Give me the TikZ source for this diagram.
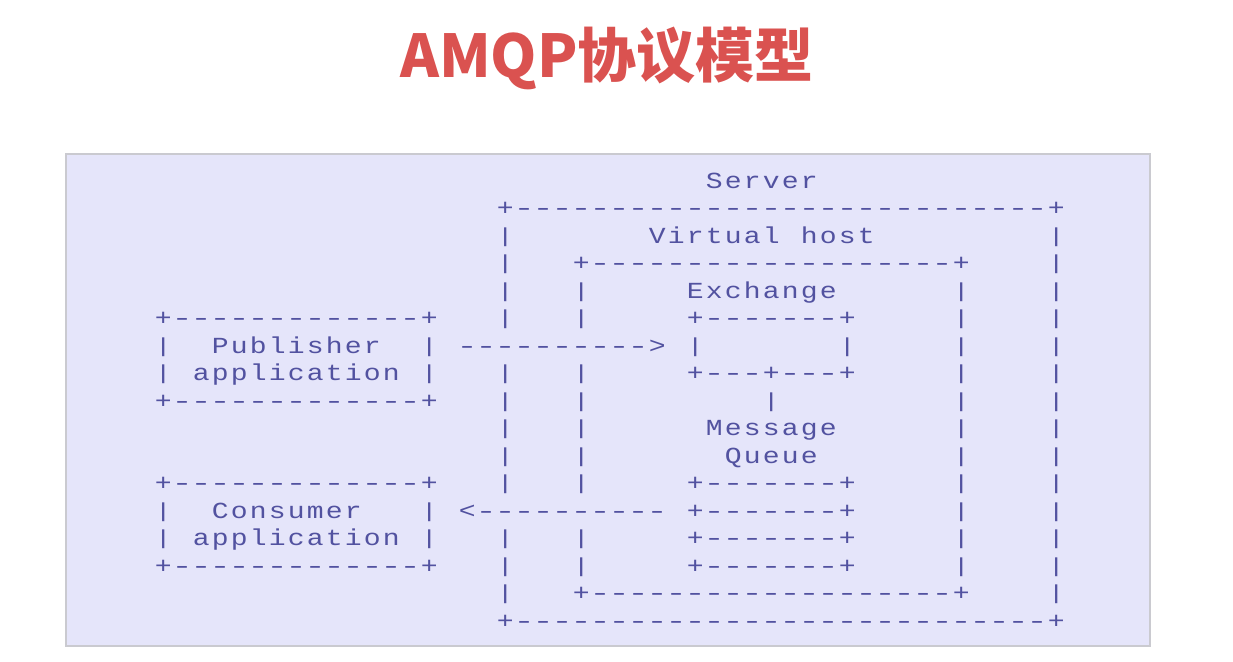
\documentclass[tikz,border=0pt]{standalone}
\usepackage{fontspec}
\usepackage{graphicx}
\setmonofont{Liberation Mono}[FakeStretch=1.22]
\newfontfamily\cjk{Noto Sans CJK SC}
\definecolor{fond}{RGB}{229,229,250}
\definecolor{bord}{RGB}{202,202,208}
\definecolor{encre}{RGB}{82,82,160}
\definecolor{titre}{RGB}{218,82,80}
% chaque caractere dans une case de 19pt, comme une police a chasse fixe un peu espacee
\newcommand\asc[1]{\ascloop#1\relax}
\newcommand\ascloop[1]{%
  \ifx#1\relax\else
    \makebox[19pt][c]{\asccar{#1}}%
    \expandafter\ascloop
  \fi}
\newcommand\asccar[1]{%
  \ifx#1-\scalebox{1.25}[1]{-}\else
    \ifx#1|\raisebox{1pt}{\scalebox{1}[0.88]{|}}\else#1\fi
  \fi}

\begin{document}
\begin{tikzpicture}[x=1pt, y=-1pt,
    ascii/.style={anchor=base west, inner sep=0pt, text=encre,
      font=\ttfamily\fontsize{23}{25}\selectfont}]
  \useasboundingbox (0,0) rectangle (1233,661);
  \node[text=titre, font=\cjk\bfseries\fontsize{59}{62}\selectfont] (titre) at (607,58) {AMQP协议模型};
  \draw[fill=fond, draw=bord, line width=1.5pt] (66,154) rectangle (1150,646);
  % une colonne = un caractere, une ligne = une ligne du dessin ascii
  \begin{scope}[shift={(153.5,188)}, x=19pt, y=-27.5pt]
    % les etiquettes
    \node[ascii] (server) at (29,0) {\asc{Server}};
    \node[ascii] (vhost) at (26,2) {\asc{Virtual~host}};
    \node[ascii] (exchange) at (28,4) {\asc{Exchange}};
    \node[ascii] (message) at (29,9) {\asc{Message}};
    \node[ascii] (queue) at (30,10) {\asc{Queue}};
    % server et virtual host
    \node[ascii] (srvtop) at (18,1) {\asc{+----------------------------+}};
    \node[ascii] (srvbot) at (18,16) {\asc{+----------------------------+}};
    \node[ascii] (vhtop) at (22,3) {\asc{+-------------------+}};
    \node[ascii] (vhbot) at (22,15) {\asc{+-------------------+}};
    \foreach \ligne in {2, 3, ..., 15} {
      \node[ascii] (srvr-\ligne) at (47,\ligne) {\asc{|}};
    }
    \foreach \ligne in {2, 3, 4, 5, 7, 8, 9, 10, 11, 13, 14, 15} {
      \node[ascii] (srvl-\ligne) at (18,\ligne) {\asc{|}};
    }
    \foreach \ligne in {4, 5, ..., 14} {
      \node[ascii] (vhr-\ligne) at (42,\ligne) {\asc{|}};
    }
    \foreach \ligne in {4, 5, 7, 8, 9, 10, 11, 13, 14} {
      \node[ascii] (vhl-\ligne) at (22,\ligne) {\asc{|}};
    }
    % exchange
    \node[ascii] (extop) at (28,5) {\asc{+-------+}};
    \node[ascii] (exl) at (28,6) {\asc{|}};
    \node[ascii] (exr) at (36,6) {\asc{|}};
    \node[ascii] (exbot) at (28,7) {\asc{+---+---+}};
    \node[ascii] (exlien) at (32,8) {\asc{|}};
    % message queue
    \foreach \ligne in {11, 12, 13, 14} {
      \node[ascii] (mq-\ligne) at (28,\ligne) {\asc{+-------+}};
    }
    % publisher et consumer
    \foreach \nom/\haut/\texte in {pub/5/Publisher, cons/11/Consumer} {
      \node[ascii] (\nom-top) at (0,\haut) {\asc{+-------------+}};
      \node[ascii] (\nom-l1) at (0,\haut+1) {\asc{|}};
      \node[ascii] (\nom-r1) at (14,\haut+1) {\asc{|}};
      \node[ascii] (\nom-txt) at (3,\haut+1) {\expandafter\asc\expandafter{\texte}};
      \node[ascii] (\nom-l2) at (0,\haut+2) {\asc{|}};
      \node[ascii] (\nom-r2) at (14,\haut+2) {\asc{|}};
      \node[ascii] (\nom-app) at (2,\haut+2) {\asc{application}};
      \node[ascii] (\nom-bot) at (0,\haut+3) {\asc{+-------------+}};
    }
    % les fleches
    \node[ascii] (publie) at (16,6) {\asc{---------->}};
    \node[ascii] (consomme) at (16,12) {\asc{<----------}};
  \end{scope}
\end{tikzpicture}
\end{document}
